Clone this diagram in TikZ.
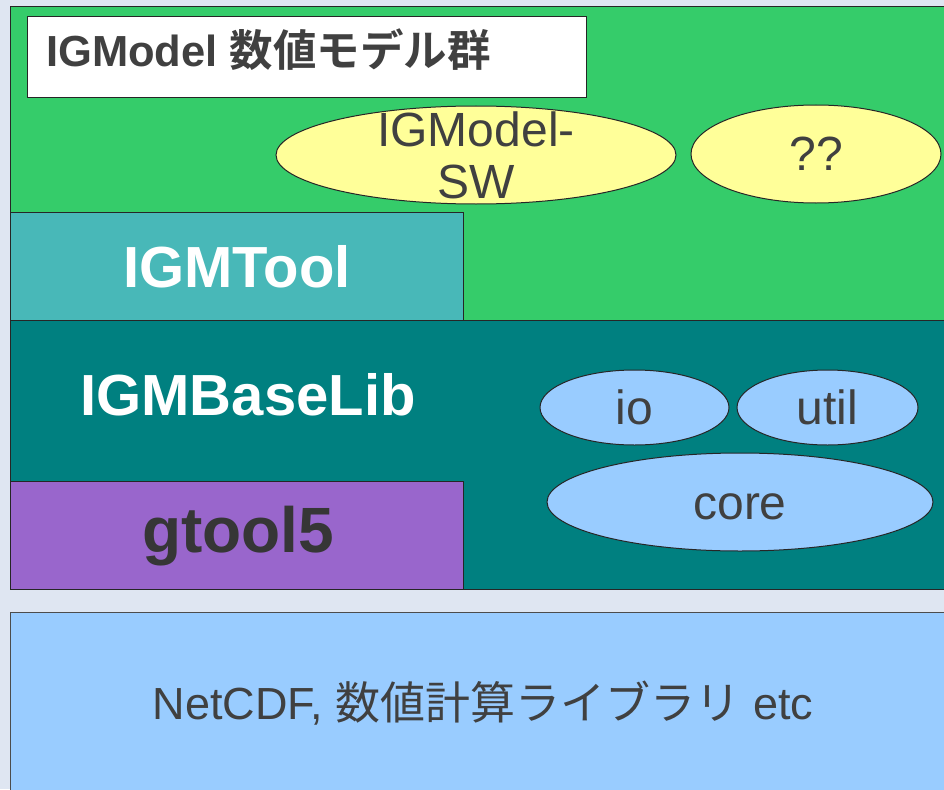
\documentclass[tikz,border=0pt]{standalone}
\usepackage{fontspec}
\setmainfont{Liberation Sans}
\newfontfamily\jp{Noto Sans CJK JP}[BoldFont={Noto Sans CJK JP Bold}]
\usetikzlibrary{shapes.geometric}
\definecolor{bg}{HTML}{DFE6F2}
\definecolor{grn}{HTML}{35CC6A}
\definecolor{tool}{HTML}{48B8B8}
\definecolor{teal2}{HTML}{008080}
\definecolor{purp}{HTML}{9966CC}
\definecolor{lblue}{HTML}{99CCFF}
\definecolor{yel}{HTML}{FFFF99}
\definecolor{txt}{HTML}{404040}
\tikzset{
  layer/.style={draw=black!85, line width=1pt, inner sep=0pt, outer sep=0pt, anchor=north west},
  blob/.style={ellipse, draw=black!85, line width=1pt, inner sep=0pt, outer sep=0pt},
  blobtext/.style={inner sep=0pt, text=txt, font=\fontsize{48}{52}\selectfont, align=center},
  big/.style={inner sep=0pt, font=\fontsize{58}{62}\selectfont\bfseries}
}
\begin{document}
\begin{tikzpicture}[x=1pt,y=-1pt]
\useasboundingbox (0,0) rectangle (944,789);
\fill[bg] (0,0) rectangle (944,789);
% top layer
\node[layer, fill=grn, minimum width=940, minimum height=313] (model) at (10,7) {};
\node[layer, fill=white, minimum width=559, minimum height=81] (title) at (27,17) {};
\node[anchor=west, inner sep=0pt, text=txt, font=\fontsize{43.5}{46}\selectfont\bfseries] (titletext) at (46,50) {IGModel {\jp 数値モデル群}};
\node[blob, fill=yel, minimum width=400, minimum height=98] (sw) at (476,155) {};
\node[blobtext] (swtext) at (sw.center) {IGModel-\\SW};
\node[blob, fill=yel, minimum width=250, minimum height=98] (qq) at (816,154) {};
\node[blobtext] (qqtext) at (qq.center) {??};
% IGMTool
\node[layer, fill=tool, minimum width=453, minimum height=108] (tool) at (10,212) {};
\node[big, text=white] (tooltext) at (237,267) {IGMTool};
% IGMBaseLib
\node[layer, fill=teal2, minimum width=940, minimum height=269] (base) at (10,320) {};
\node[big, text=white] (basetext) at (248,395) {IGMBaseLib};
\node[layer, fill=purp, minimum width=453, minimum height=108] (gt) at (10,481) {};
\node[font=\fontsize{64}{68}\selectfont\bfseries, text=txt!85!black, inner sep=0pt] (gttext) at (238,536) {gtool5};
\node[blob, fill=lblue, minimum width=189, minimum height=75] (io) at (634.5,407.5) {};
\node[blobtext] (iotext) at (io.center) {io};
\node[blob, fill=lblue, minimum width=181, minimum height=75] (util) at (827.5,407.5) {};
\node[blobtext] (utiltext) at (util.center) {util};
\node[blob, fill=lblue, minimum width=386, minimum height=98] (core) at (740,502) {};
\node[blobtext] (coretext) at ([yshift=-5pt]core.center) {core};
% bottom
\node[layer, draw=black!70, fill=lblue, minimum width=940, minimum height=190] (lib) at (10,612) {};
\node[text=txt, inner sep=0pt, font=\fontsize{45}{50}\selectfont] (libtext) at (483,703) {NetCDF, {\jp 数値計算ライブラリ} etc};
\end{tikzpicture}
\end{document}
